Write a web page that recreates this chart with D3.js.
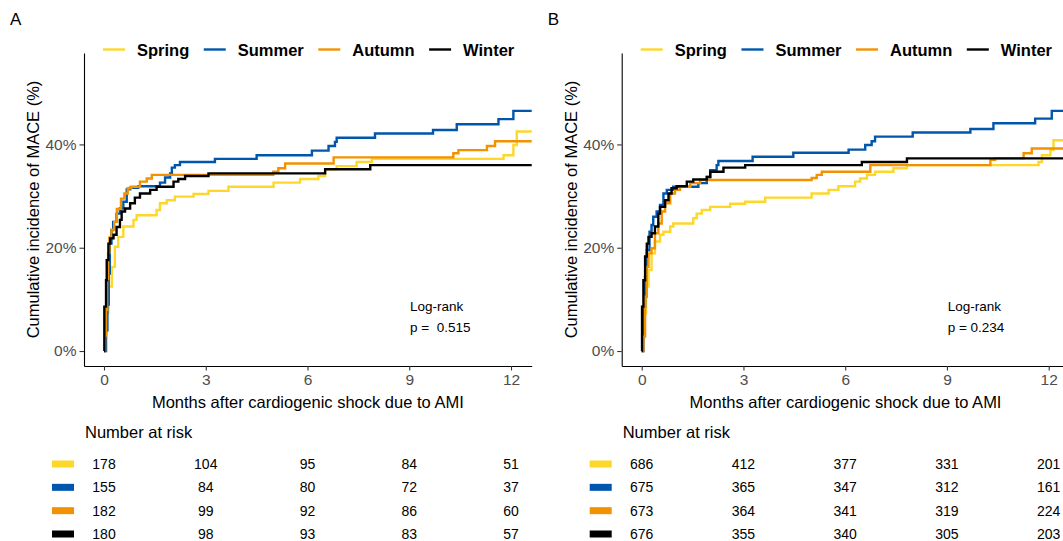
<!DOCTYPE html>
<html>
<head>
<meta charset="utf-8">
<script src="https://cdn.jsdelivr.net/npm/d3@7"></script>
<style>
  html, body { margin: 0; padding: 0; background: #fff; }
  svg { display: block; font-family: "Liberation Sans", Arial, sans-serif; }
</style>
</head>
<body>
<div id="chart"></div>
<script>
// --- data ---
const seasons = ["Spring", "Summer", "Autumn", "Winter"];
const seasonColors = ["#FDD72A", "#0056AC", "#F39200", "#000000"];
const timeTicks = [0, 3, 6, 9, 12];
const pctTicks = [0, 20, 40];

// number at risk at 0, 3, 6, 9, 12 months (rows: Spring, Summer, Autumn, Winter)
const riskA = [
  [178, 104, 95, 84, 51],
  [155, 84, 80, 72, 37],
  [182, 99, 92, 86, 60],
  [180, 98, 93, 83, 57]
];
const riskB = [
  [686, 412, 377, 331, 201],
  [675, 365, 347, 312, 161],
  [673, 364, 341, 319, 224],
  [676, 355, 340, 305, 203]
];

// cumulative incidence steps [month, %]
const springA = [[0,0],[0.03,3.4],[0.08,7.3],[0.13,12.5],[0.23,16.3],[0.32,20.2],[0.42,22.1],[0.57,24.1],[0.87,25.4],[0.96,26.3],[1.55,27.3],[1.65,28.6],[1.85,29.2],[2.09,29.9],[2.64,30.4],[3.08,31],[3.67,31.8],[5.0,32.6],[5.78,33.3],[6.32,33.9],[6.52,35.2],[6.86,35.8],[7.45,36.6],[7.9,37.2],[11.78,37.9],[12.07,39.9],[12.17,42.5],[12.8,42.5]];
const summerA = [[0,0],[0.06,4],[0.1,9],[0.14,15],[0.17,20.8],[0.22,23.4],[0.27,25],[0.37,26.6],[0.47,27.6],[0.57,28.9],[0.67,31.3],[0.77,31.6],[1.01,31.9],[1.65,32.6],[1.8,33.6],[1.95,34.4],[2.0,35.5],[2.09,36],[2.24,36.6],[3.27,37.2],[4.5,37.9],[6.13,38.8],[6.62,39.7],[6.81,40.5],[6.86,41.3],[7.99,42.1],[9.7,42.8],[10.4,43.9],[11.63,44.9],[12.07,46.5],[12.8,46.5]];
const autumnA = [[0,0],[0.03,3],[0.06,8],[0.09,14],[0.12,19],[0.16,22],[0.22,23.5],[0.3,25],[0.38,27.5],[0.5,29.5],[0.6,30.5],[0.7,31.5],[0.8,31.8],[1.06,32.8],[1.26,33.4],[1.41,34.1],[4.99,34.7],[5.14,35.4],[5.34,36.3],[6.77,37.5],[10.3,38.3],[10.45,38.9],[11.29,39.7],[11.53,40.6],[12.8,40.6]];
const winterA = [[0,0],[0.01,8.6],[0.06,13.7],[0.08,17.6],[0.13,20.8],[0.18,21.8],[0.28,22.5],[0.37,24],[0.47,25.4],[0.52,27],[0.62,27.6],[0.77,28.6],[0.91,29.7],[1.06,30.5],[1.36,31.2],[1.55,31.8],[2.05,32.8],[2.19,33.3],[2.39,33.9],[3.08,34.4],[6.52,35.2],[7.85,36],[12.8,36]];

const springB = [[0,0],[0.03,2.8],[0.07,7.3],[0.13,12.5],[0.2,15.7],[0.29,18.9],[0.39,21.2],[0.54,22.5],[0.64,23.1],[0.84,24.1],[0.93,24.7],[1.52,25.7],[1.62,26.6],[1.77,27.3],[2.02,27.9],[2.61,28.5],[3.05,28.9],[3.64,29.7],[5.01,30.5],[5.51,31.2],[5.8,31.9],[6.29,32.8],[6.44,33.4],[6.64,34.1],[6.88,34.7],[7.42,35.4],[7.82,36],[11.7,36.6],[11.8,37.9],[12.05,38.9],[12.14,40.8],[12.8,40.8]];
const summerB = [[0,0],[0.05,8.6],[0.1,14.4],[0.15,19.5],[0.23,23.1],[0.29,24.4],[0.34,26],[0.44,27],[0.54,28.3],[0.64,30.5],[0.74,31.2],[0.93,31.8],[1.67,32.5],[1.92,33.7],[2.02,35],[2.21,36],[2.26,36.8],[3.27,37.6],[4.47,38.4],[6.1,39],[6.59,39.9],[6.78,40.6],[6.88,41.5],[7.99,42.3],[9.69,43],[10.37,44.1],[11.6,45],[12.09,46.5],[12.8,46.5]];
const autumnB = [[0,0],[0.05,2.8],[0.1,10.5],[0.15,16.3],[0.2,18.9],[0.29,19.9],[0.39,22.8],[0.49,24.7],[0.59,27],[0.69,28.6],[0.84,30.5],[0.98,31.2],[1.13,31.8],[1.43,32.5],[1.72,33.1],[5.01,33.5],[5.16,34.1],[5.31,34.7],[6.74,36],[10.28,37],[10.42,37.3],[11.26,38.3],[11.5,39.2],[12.8,39.2]];
const winterB = [[0,0],[0.01,8.6],[0.05,13.7],[0.1,18.3],[0.15,20.8],[0.2,22.1],[0.29,22.8],[0.39,24.1],[0.49,26.6],[0.54,27.9],[0.69,29.2],[0.79,30.5],[0.88,31.5],[1.03,31.9],[1.33,32.8],[1.52,33.2],[1.92,33.7],[2.02,34.7],[2.41,35.5],[3.05,36],[6.49,36.6],[7.82,37.3],[12.8,37.3]];

const W = 1063, H = 541;
const svg = d3.select("#chart").append("svg")
  .attr("width", W).attr("height", H);
svg.append("rect").attr("width", W).attr("height", H).attr("fill", "#fff");

function drawPanel(ox, letter, curves, risk, pText, clipId) {
  const g = svg.append("g").attr("transform", `translate(${ox},0)`);
  const left = 84, right = 531.7, top = 53, bottom = 366;

  const x = d3.scaleLinear().domain([-0.59, 12.61]).range([left, right]);
  const y = d3.scaleLinear().domain([-2.9, 57.7]).range([bottom, top]);

  g.append("text").attr("x", 10).attr("y", 25)
    .attr("font-size", 17).attr("fill", "#000").text(letter);

  // clip for curves
  svg.append("clipPath").attr("id", clipId)
    .append("rect").attr("x", left).attr("y", top)
    .attr("width", right - left).attr("height", bottom - top);

  const line = d3.line()
    .x(d => x(d[0])).y(d => y(d[1]))
    .curve(d3.curveStepAfter);

  const cg = g.append("g").attr("clip-path", `url(#${clipId})`);
  curves.forEach((c, i) => {
    cg.append("path")
      .attr("d", line(c))
      .attr("fill", "none")
      .attr("stroke", seasonColors[i])
      .attr("stroke-width", 2.4);
  });

  // axes
  g.append("g")
    .attr("transform", `translate(0,${bottom})`)
    .call(d3.axisBottom(x).tickValues(timeTicks).tickSize(4.5).tickPadding(3).tickSizeOuter(0))
    .call(ax => ax.select(".domain").attr("stroke", "#000").attr("stroke-width", 1.1))
    .call(ax => ax.selectAll(".tick line").attr("stroke", "#333").attr("stroke-width", 1.1))
    .call(ax => ax.selectAll("text")
      .attr("font-size", 15.5).attr("fill", "#4d4d4d")
      .attr("font-family", "Liberation Sans, Arial, sans-serif"));

  g.append("g")
    .attr("transform", `translate(${left},0)`)
    .call(d3.axisLeft(y).tickValues(pctTicks).tickFormat(d => d + "%").tickSize(4.5).tickPadding(3).tickSizeOuter(0))
    .call(ax => ax.select(".domain").attr("stroke", "#000").attr("stroke-width", 1.1))
    .call(ax => ax.selectAll(".tick line").attr("stroke", "#333").attr("stroke-width", 1.1))
    .call(ax => ax.selectAll("text")
      .attr("font-size", 15.5).attr("fill", "#4d4d4d")
      .attr("font-family", "Liberation Sans, Arial, sans-serif"));

  // axis titles
  g.append("text")
    .attr("x", (left + right) / 2).attr("y", 408)
    .attr("text-anchor", "middle").attr("font-size", 16.5)
    .text("Months after cardiogenic shock due to AMI");

  g.append("text")
    .attr("transform", `translate(33,${(top + bottom) / 2}) rotate(-90)`)
    .attr("text-anchor", "middle").attr("dominant-baseline", "central")
    .attr("font-size", 16.5)
    .text("Cumulative incidence of MACE (%)");

  // legend
  let lx = 103;
  seasons.forEach((s, i) => {
    g.append("line")
      .attr("x1", lx).attr("x2", lx + 22).attr("y1", 49.5).attr("y2", 49.5)
      .attr("stroke", seasonColors[i]).attr("stroke-width", 2.4);
    const t = g.append("text")
      .attr("x", lx + 34).attr("y", 55.5)
      .attr("font-size", 16.5).attr("font-weight", "bold")
      .text(s);
    lx = lx + 34 + t.node().getComputedTextLength() + 14.5;
  });

  // log-rank
  g.append("text").attr("x", 410).attr("y", 311)
    .attr("font-size", 13.5).text("Log-rank");
  g.append("text").attr("x", 410).attr("y", 332)
    .attr("font-size", 13.5).style("white-space", "pre").text(pText);

  // number at risk table
  g.append("text").attr("x", 85).attr("y", 438)
    .attr("font-size", 16.5).text("Number at risk");

  const rowY = d3.scalePoint().domain(seasons).range([464, 534]);
  seasons.forEach((s, i) => {
    g.append("rect")
      .attr("x", 52).attr("y", rowY(s) - 3.5)
      .attr("width", 22).attr("height", 7)
      .attr("fill", seasonColors[i]);
    g.selectAll(null)
      .data(risk[i].map((v, k) => ({ t: timeTicks[k], v })))
      .join("text")
        .attr("x", d => x(d.t)).attr("y", rowY(s) + 5)
        .attr("text-anchor", "middle").attr("font-size", 14)
        .text(d => d.v);
  });
}

drawPanel(0, "A", [springA, summerA, autumnA, winterA], riskA, "p =  0.515", "clipA");
drawPanel(537.7, "B", [springB, summerB, autumnB, winterB], riskB, "p = 0.234", "clipB");
</script>
</body>
</html>
